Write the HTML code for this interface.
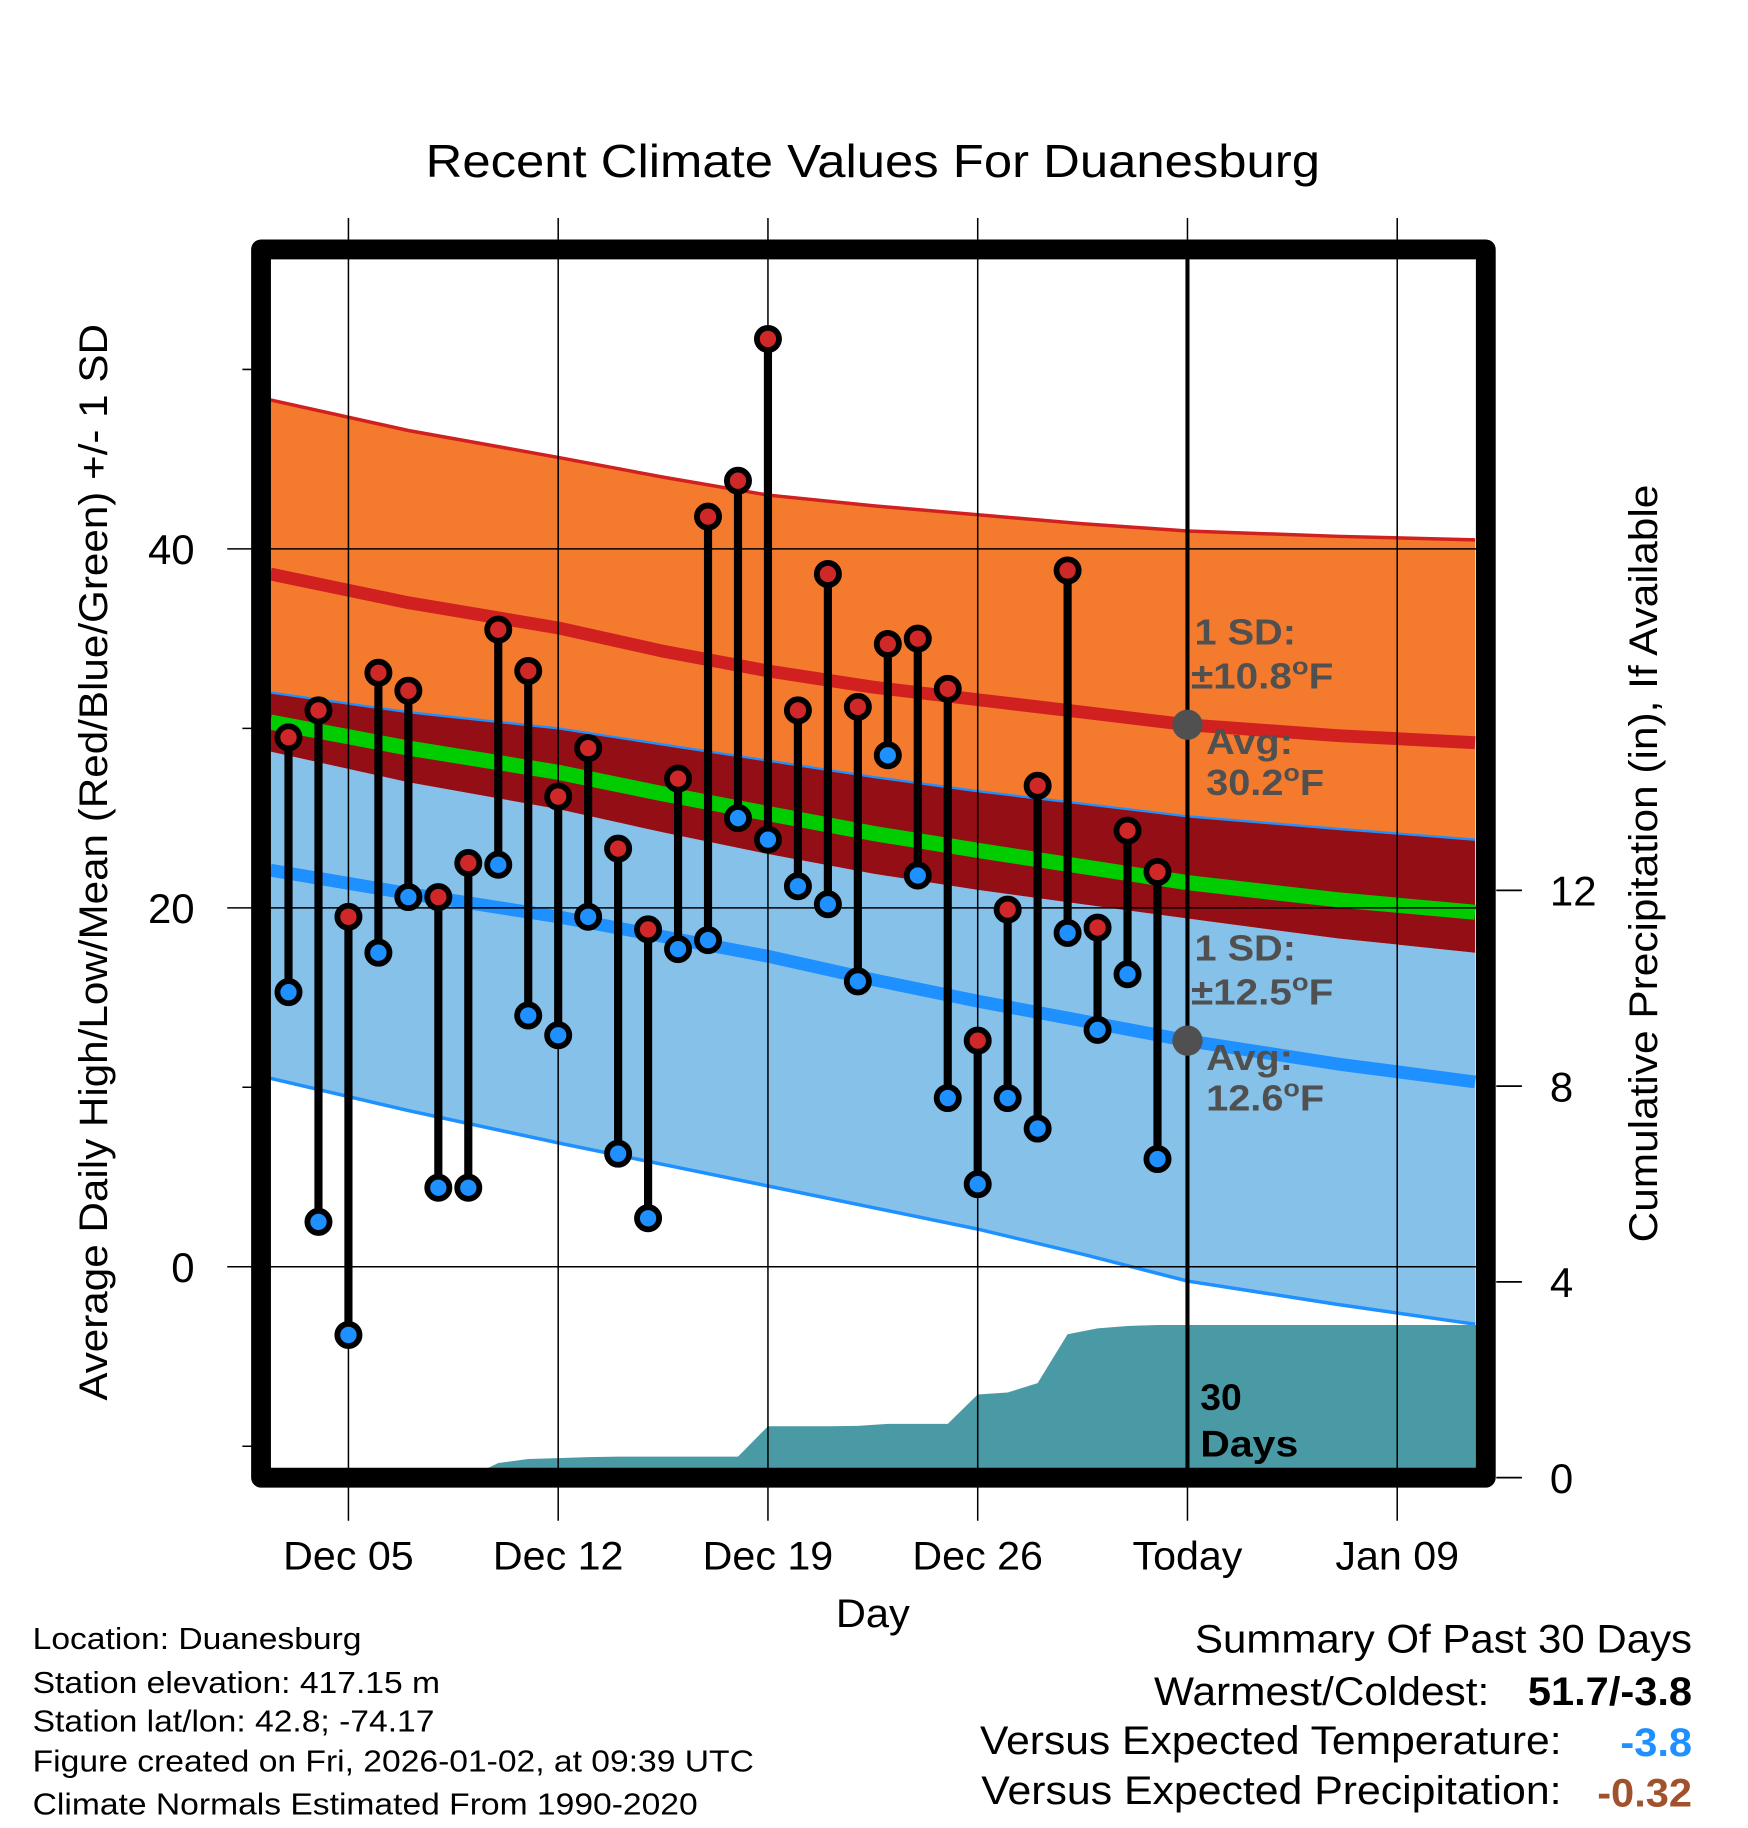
<!DOCTYPE html>
<html><head><meta charset="utf-8"><style>
html,body{margin:0;padding:0;background:#fff;}
svg{display:block;font-family:"Liberation Sans",Arial,sans-serif;}
</style></head><body>
<svg id="chart" width="1748" height="1828" viewBox="0 0 1500 1568.6" xmlns="http://www.w3.org/2000/svg">
<text id="title" x="749" y="152" font-size="40" text-anchor="middle">Recent Climate Values For Duanesburg</text>
<g id="plot"></g>
</svg>
<script>
// ---- data ----
const dayOffsets = [-2,-1,0,1,2,3,4,5,6,7,8,9,10,11,12,13,14,15,16,17,18,19,20,21,22,23,24,25,26,27];
const highs = [29.5,31.0,19.5,33.1,32.1,20.6,22.5,35.5,33.2,26.2,28.9,23.3,18.8,27.2,41.8,43.8,51.7,31.0,38.6,31.2,34.7,35.0,32.2,12.6,19.9,26.8,38.8,18.9,24.3,22.0];
const lows = [15.3,2.5,-3.8,17.5,20.6,4.4,4.4,22.4,14.0,12.9,19.5,6.3,2.7,17.7,18.2,25.0,23.8,21.2,20.2,15.9,28.5,21.8,9.4,4.6,9.4,7.7,18.6,13.2,16.3,6.0];
const precip = [0,0,0,0,0,0,0,0.3,0.38,0.4,0.42,0.43,0.43,0.43,0.43,0.43,1.05,1.05,1.05,1.06,1.1,1.1,1.1,1.7,1.74,1.93,2.93,3.05,3.1,3.12];
const normDays = [-2.6,2,7,10.5,14,17.5,21,24.5,28,33,37.6];
const highUpper = [48.3,46.6,45.1,44.0,43.0,42.4,41.9,41.4,41.0,40.7,40.5];
const highMean = [38.6,37.0,35.6,34.3,33.2,32.3,31.6,30.9,30.2,29.6,29.2];
const highLower = [28.7,27.0,25.5,24.2,23.0,21.9,21.0,20.2,19.4,18.3,17.5];
const lowUpper = [32.0,30.9,30.0,29.1,28.2,27.3,26.5,25.8,25.1,24.4,23.8];
const lowMean = [22.1,20.8,19.5,18.4,17.3,16.0,14.8,13.7,12.6,11.3,10.3];
const lowLower = [10.5,8.7,6.9,5.7,4.5,3.3,2.1,0.7,-0.8,-2.1,-3.2];
const xTickDays = [0,7,14,21,28,35];
const xTickLabels = ["Dec 05","Dec 12","Dec 19","Dec 26","Today","Jan 09"];
const yTicks = [0,20,40];
const yMinor = [-10,10,30,50];
const pTicks = [0,4,8,12];

// ---- axes ----
const L=232,R=1267,T=222,B=1260;
const X = d => 299 + d*25.714;
const Y = v => 1087 - v*15.4;
const P = p => 1268 - p*42;
const NS="http://www.w3.org/2000/svg";
const g=document.getElementById('plot');
function el(tag,attrs,parent){const e=document.createElementNS(NS,tag);for(const k in attrs)e.setAttribute(k,attrs[k]);(parent||g).appendChild(e);return e;}
function pts(days,vals){return days.map((d,i)=>X(d).toFixed(1)+','+Y(vals[i]).toFixed(1));}
function stretch(e,f){try{const w=e.getComputedTextLength();if(w>0){e.setAttribute('textLength',(w*f).toFixed(1));e.setAttribute('lengthAdjust','spacingAndGlyphs');}}catch(x){}}
stretch(document.getElementById('title'),1.09);
const clip=el('clipPath',{id:'pc'});el('rect',{x:L,y:T,width:R-L,height:B-T},clip);
const inner=el('g',{'clip-path':'url(#pc)'});
(function(){
  const P2=(a,b,f,n)=>{const p=pts(normDays,a).concat(pts(normDays,b).reverse());const e=el('polygon',{points:p.join(' '),fill:f},inner);};
  P2(highUpper,lowUpper,'#f47a2e','high-sd-band');
  P2(highLower,lowLower,'#85c1e9','low-sd-band');
  P2(lowUpper,highLower,'#930f15','overlap-band');
  const Ln=(v,c,w,n)=>{const e=el('polyline',{points:pts(normDays,v).join(' '),fill:'none',stroke:c,'stroke-width':w,'stroke-linejoin':'round'},inner);};
  Ln(highUpper,'#d02020',3,'high-upper-line');
  Ln(lowUpper,'#1e90ff',2,'low-upper-line');
  Ln(lowLower,'#1e90ff',3,'low-lower-line');
  Ln(highMean,'#d02020',11,'high-mean-line');
  Ln(lowMean,'#1e90ff',11,'low-mean-line');
  Ln(highMean.map((h,i)=>(h+lowMean[i])/2),'#00cc00',13,'mean-line');
  let pp=[X(dayOffsets[0])+','+B];
  dayOffsets.forEach((d,i)=>pp.push(X(d).toFixed(1)+','+P(precip[i]).toFixed(1)));
  pp.push(R+','+P(precip[precip.length-1]).toFixed(1));pp.push(R+','+B);
  pp.unshift(L+','+B);
  const pe=el('polygon',{points:pp.join(' '),fill:'#4a9aa5'},inner);
  
  
})();
xTickDays.forEach(d=>{const e=el('line',{x1:X(d),x2:X(d),y1:187,y2:1305,stroke:'#000','stroke-width':1.3});});
yTicks.forEach(v=>{const e=el('line',{x1:195,x2:R,y1:Y(v),y2:Y(v),stroke:'#000','stroke-width':1.3});});
yMinor.forEach(v=>{const e=el('line',{x1:208,x2:L,y1:Y(v),y2:Y(v),stroke:'#000','stroke-width':1.3});});
{const e=el('line',{x1:X(28),x2:X(28),y1:T,y2:B,stroke:'#000','stroke-width':3.5});}
dayOffsets.forEach((d,i)=>{
  const s=el('line',{x1:X(d),x2:X(d),y1:Y(highs[i]),y2:Y(lows[i]),stroke:'#000','stroke-width':7});
  
  
});
dayOffsets.forEach((d,i)=>{
  const h=el('circle',{cx:X(d),cy:Y(highs[i]),r:9.5,fill:'#d02828',stroke:'#000','stroke-width':5});
  
  
  const l=el('circle',{cx:X(d),cy:Y(lows[i]),r:9.5,fill:'#1e90ff',stroke:'#000','stroke-width':5});
  
  
});
function txt(x,y,s,attrs,name,f){const e=el('text',Object.assign({x:x,y:y},attrs||{}));e.innerHTML=s;if(f)stretch(e,f);return e;}
const ann={'font-size':31,'font-weight':'bold',fill:'#505050'};
{const c=el('circle',{cx:X(28),cy:Y(highMean[8]),r:13,fill:'#505050'});}
{const c=el('circle',{cx:X(28),cy:Y(lowMean[8]),r:13,fill:'#505050'});}
txt(1025,553,'1 SD:',ann,'high-sd-label',1.1);
txt(1022,591,'±10.8<tspan font-size="21" dy="-12">o</tspan><tspan dy="12">F</tspan>',ann,'high-sd-value',1.12);
txt(1035,647,'Avg:',ann,'high-avg-label',1.1);
txt(1035,682,'30.2<tspan font-size="21" dy="-12">o</tspan><tspan dy="12">F</tspan>',ann,'high-avg-value',1.1);
txt(1025,824,'1 SD:',ann,'low-sd-label',1.1);
txt(1022,862,'±12.5<tspan font-size="21" dy="-12">o</tspan><tspan dy="12">F</tspan>',ann,'low-sd-value',1.12);
txt(1035,918,'Avg:',ann,'low-avg-label',1.1);
txt(1035,953,'12.6<tspan font-size="21" dy="-12">o</tspan><tspan dy="12">F</tspan>',ann,'low-avg-value',1.1);
txt(1030,1210,'30',{'font-size':32,'font-weight':'bold'},'days-label-number');
txt(1030,1250,'Days',{'font-size':32,'font-weight':'bold'},'days-label-text',1.1);
{const f=el('rect',{x:224,y:214,width:1051,height:1054,fill:'none',stroke:'#000','stroke-width':17,'stroke-linejoin':'round'});}
xTickDays.forEach((d,i)=>txt(X(d),1347,xTickLabels[i],{'font-size':34,'text-anchor':'middle'},'x-tick-label',1.04));
txt(749,1396,'Day',{'font-size':34,'text-anchor':'middle'},'x-axis-title',1.05);
yTicks.forEach(v=>txt(167,Y(v)+13,String(v),{'font-size':36,'text-anchor':'end'},'y-tick-label'));
pTicks.forEach(p=>{
  const t=el('line',{x1:1284,x2:1306,y1:P(p),y2:P(p),stroke:'#000','stroke-width':1.5});
  
  
  txt(1330,P(p)+13,String(p),{'font-size':36},'precip-tick-label');
});
txt(0,0,'Average Daily High/Low/Mean (Red/Blue/Green) +/- 1 SD',{'font-size':34,'text-anchor':'middle',transform:'translate(92,740) rotate(-90)'},'y-axis-title',1.065);
txt(0,0,'Cumulative Precipitation (in), If Available',{'font-size':34,'text-anchor':'middle',transform:'translate(1422,741) rotate(-90)'},'precip-axis-title',1.07);
const fl=['Location: Duanesburg','Station elevation: 417.15 m','Station lat/lon: 42.8; -74.17','Figure created on Fri, 2026-01-02, at 09:39 UTC','Climate Normals Estimated From 1990-2020'];
const fy=[1415,1453,1486,1520,1557];
fl.forEach((s,i)=>txt(28,fy[i],s,{'font-size':26},'footer-info-line',1.11));
txt(1452,1418,'Summary Of Past 30 Days',{'font-size':34,'text-anchor':'end'},'summary-title',1.06);
txt(1278,1463,'Warmest/Coldest:',{'font-size':34,'text-anchor':'end'},'warmest-coldest-label',1.07);
txt(1452,1463,'51.7/-3.8',{'font-size':34,'text-anchor':'end','font-weight':'bold'},'warmest-coldest-value',1.05);
txt(1340,1505,'Versus Expected Temperature:',{'font-size':34,'text-anchor':'end'},'temp-anomaly-label',1.075);
txt(1452,1507,'-3.8',{'font-size':34,'text-anchor':'end','font-weight':'bold',fill:'#1e90ff'},'temp-anomaly-value',1.05);
txt(1340,1548,'Versus Expected Precipitation:',{'font-size':34,'text-anchor':'end'},'precip-anomaly-label',1.08);
txt(1452,1550,'-0.32',{'font-size':34,'text-anchor':'end','font-weight':'bold',fill:'#a0522d'},'precip-anomaly-value',1.05);
</script>
</body></html>
